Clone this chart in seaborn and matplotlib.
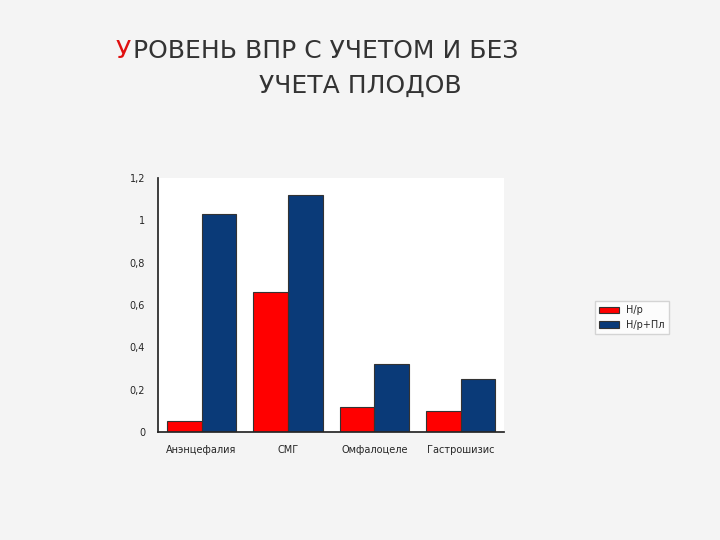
import matplotlib
matplotlib.use("Agg")
import matplotlib.pyplot as plt
import seaborn as sns
import pandas as pd

categories = ["Анэнцефалия", "СМГ", "Омфалоцеле", "Гастрошизис"]
series_names = ["Н/р", "Н/р+Пл"]
red_values = [0.05, 0.66, 0.12, 0.10]
blue_values = [1.03, 1.12, 0.32, 0.25]
yticks = [0, 0.2, 0.4, 0.6, 0.8, 1, 1.2]
ytick_labels = ["0", "0,2", "0,4", "0,6", "0,8", "1", "1,2"]

df = pd.DataFrame({
    "cat": categories * 2,
    "series": [series_names[0]] * 4 + [series_names[1]] * 4,
    "val": red_values + blue_values,
})

sns.set_theme(style="white")
fig = plt.figure(figsize=(7.2, 5.4), dpi=100)
fig.patch.set_facecolor("#f4f4f4")
fig.text(0.16, 0.905, "У", color="#e01010", fontsize=18, ha="left", va="center")
fig.text(0.185, 0.905, "РОВЕНЬ ВПР С УЧЕТОМ И БЕЗ", color="#333333", fontsize=18, ha="left", va="center")
fig.text(0.5, 0.84, "УЧЕТА ПЛОДОВ", color="#333333", fontsize=18, ha="center", va="center")

ax = fig.add_axes([0.22, 0.2, 0.48, 0.47])
ax.set_facecolor("white")
sns.barplot(data=df, x="cat", y="val", hue="series", palette=["#ff0000", "#0a3a78"],
            saturation=1, edgecolor="#333333", linewidth=0.8, ax=ax, width=0.8)
ax.set_ylim(0, 1.2)
ax.set_yticks(yticks)
ax.set_yticklabels(ytick_labels, fontsize=7)
ax.tick_params(axis="x", labelsize=7)
ax.set_xlabel("")
ax.set_ylabel("")
for s in ["top", "right"]:
    ax.spines[s].set_visible(False)
ax.legend(loc="center left", bbox_to_anchor=(1.25, 0.45), fontsize=7, frameon=True,
          fancybox=False, edgecolor="#cccccc")
fig.savefig("out.png", dpi=100, facecolor=fig.get_facecolor())
